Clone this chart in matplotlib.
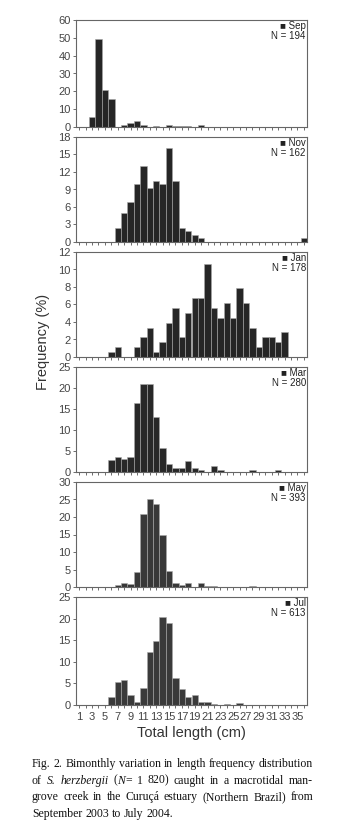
import matplotlib
matplotlib.use("Agg")
import matplotlib.pyplot as plt
import numpy as np

# length classes (cm)
lengths = np.arange(1, 37)

# frequency (%) per length class, one list per month
sep = {3: 5.7, 4: 49.5, 5: 20.6, 6: 15.5, 8: 1.0, 9: 2.1, 10: 3.6, 11: 1.0,
       13: 0.5, 15: 1.0, 16: 0.4, 17: 0.6, 18: 0.5, 20: 0.9}
nov = {7: 2.47, 8: 4.94, 9: 6.79, 10: 9.88, 11: 12.96, 12: 9.26, 13: 10.49,
       14: 9.88, 15: 16.05, 16: 10.49, 17: 2.47, 18: 1.85, 19: 1.23, 20: 0.62, 36: 0.62}
jan = {6: 0.56, 7: 1.12, 10: 1.12, 11: 2.25, 12: 3.37, 13: 0.56, 14: 1.69, 15: 3.93,
       16: 5.62, 17: 2.25, 18: 5.06, 19: 6.74, 20: 6.74, 21: 10.67, 22: 5.62, 23: 4.49,
       24: 6.18, 25: 4.49, 26: 7.87, 27: 6.18, 28: 3.37, 29: 1.12, 30: 2.25, 31: 2.25,
       32: 1.69, 33: 2.81}
mar = {6: 2.86, 7: 3.57, 8: 3.21, 9: 3.57, 10: 16.43, 11: 21.07, 12: 21.07, 13: 13.21,
       14: 5.71, 15: 1.79, 16: 1.07, 17: 1.07, 18: 2.5, 19: 1.07, 20: 0.36, 22: 1.43,
       23: 0.36, 28: 0.36, 32: 0.36}
may = {7: 0.51, 8: 1.27, 9: 0.76, 10: 4.33, 11: 20.87, 12: 25.19, 13: 23.66, 14: 14.76,
       15: 4.58, 16: 1.02, 17: 0.51, 18: 1.02, 20: 1.02, 21: 0.25, 22: 0.25, 28: 0.25}
jul = {6: 1.79, 7: 5.22, 8: 5.87, 9: 2.28, 10: 0.65, 11: 3.92, 12: 12.23, 13: 14.85,
       14: 20.39, 15: 18.92, 16: 6.36, 17: 3.75, 18: 1.79, 19: 2.28, 20: 0.65, 21: 0.65,
       22: 0.33, 24: 0.33, 26: 0.49}

months = ["Sep", "Nov", "Jan", "Mar", "May", "Jul"]
sizes = [194, 162, 178, 280, 393, 613]
series = [sep, nov, jan, mar, may, jul]
ymax = [60, 18, 12, 25, 30, 25]
ystep = [10, 3, 2, 5, 5, 5]
xlabels = [str(v) if v % 2 == 1 else "" for v in lengths]

W, H = 343, 822
fig = plt.figure(figsize=(W / 100, H / 100), dpi=100)
plt.rcParams["font.family"] = ["Liberation Sans", "DejaVu Sans"]

# panel top / bottom in pixels
boxes = [(20, 127), (137, 242), (252, 357), (367, 472), (482, 587), (597, 705)]
colors = ["#262626", "#262626", "#262626", "#282828", "#383838", "#3a3a3a"]
left, right = 76, 307

for i in range(6):
    top, bot = boxes[i]
    ax = fig.add_axes([left / W, 1 - bot / H, (right - left) / W, (bot - top) / H])
    vals = [series[i].get(v, 0) for v in lengths]
    ax.bar(lengths, vals, width=1.0, color=colors[i], edgecolor="#a8a8a8", linewidth=0.4)
    ax.set_xlim(0.5, 36.5)
    ax.set_ylim(0, ymax[i])
    ax.set_yticks(np.arange(0, ymax[i] + 0.1, ystep[i]))
    ax.set_xticks(lengths)
    if i == 5:
        ax.set_xticklabels(xlabels)
    else:
        ax.set_xticklabels([])
    ax.tick_params(axis="both", direction="out", length=2.2, width=0.6, color="#555555",
                   labelsize=8, labelcolor="#444444", pad=1.5)
    ax.tick_params(axis="x", pad=2.5)
    for s in ax.spines.values():
        s.set_color("#666666")
        s.set_linewidth(0.8)
    hpx = bot - top
    ax.text(0.995, 1 - 6 / hpx, "\u25a0 " + months[i], transform=ax.transAxes,
            ha="right", va="center", fontsize=7, color="#222222")
    ax.text(0.995, 1 - 16 / hpx, "N = %d" % sizes[i], transform=ax.transAxes,
            ha="right", va="center", fontsize=7, color="#222222")

fig.text(43 / W, 1 - 342 / H, "Frequency (%)", rotation=90, ha="center", va="center",
         fontsize=10.5, color="#333333")
fig.text(191 / W, 1 - 733 / H, "Total length (cm)", ha="center", va="center",
         fontsize=10.5, color="#333333")

# caption, justified
renderer = fig.canvas.get_renderer()
cap_lines = [
    [[("Fig.", "normal")], [("2.", "normal")], [("Bimonthly", "normal")], [("variation", "normal")],
     [("in", "normal")], [("length", "normal")], [("frequency", "normal")], [("distribution", "normal")]],
    [[("of", "normal")], [("S.", "italic")], [("herzbergii", "italic")], [("(", "normal"), ("N", "italic"), ("=", "normal")],
     [("1", "normal")], [("820)", "normal")], [("caught", "normal")], [("in", "normal")], [("a", "normal")],
     [("macrotidal", "normal")], [("man-", "normal")]],
    [[("grove", "normal")], [("creek", "normal")], [("in", "normal")], [("the", "normal")], [("Curuçá", "normal")],
     [("estuary", "normal")], [("(Northern", "normal")], [("Brazil)", "normal")], [("from", "normal")]],
    [[("September", "normal")], [("2003", "normal")], [("to", "normal")], [("July", "normal")], [("2004.", "normal")]],
]
cx0, cx1 = 32, 313
base0, lead = 767, 16.5


def measure(fs):
    out = []
    for li, words in enumerate(cap_lines):
        y = 1 - (base0 + li * lead) / H
        wtexts = []
        for w in words:
            segs = []
            for s, st in w:
                t = fig.text(0, y, s, fontsize=fs, family="Liberation Serif", style=st,
                             va="baseline", ha="left", color="#111111")
                segs.append((t, t.get_window_extent(renderer).width))
            wtexts.append(segs)
        out.append(wtexts)
    return out


fs = 10.0
while True:
    lines = measure(fs)
    ok = True
    for wtexts in lines[:-1]:
        total = sum(sum(wd for _, wd in segs) for segs in wtexts)
        if (cx1 - cx0 - total) / (len(wtexts) - 1) < 0.25 * fs * 100 / 72:
            ok = False
    if ok or fs < 6:
        break
    for wtexts in lines:
        for segs in wtexts:
            for t, _ in segs:
                t.remove()
    fs -= 0.1

for li, wtexts in enumerate(lines):
    total = sum(sum(wd for _, wd in segs) for segs in wtexts)
    if li < len(lines) - 1:
        gap = (cx1 - cx0 - total) / (len(wtexts) - 1)
    else:
        gap = 0.25 * fs * 100 / 72
    x = cx0
    for segs in wtexts:
        for t, wd in segs:
            t.set_x(x / W)
            x += wd
        x += gap

fig.savefig("out.png", dpi=100)
